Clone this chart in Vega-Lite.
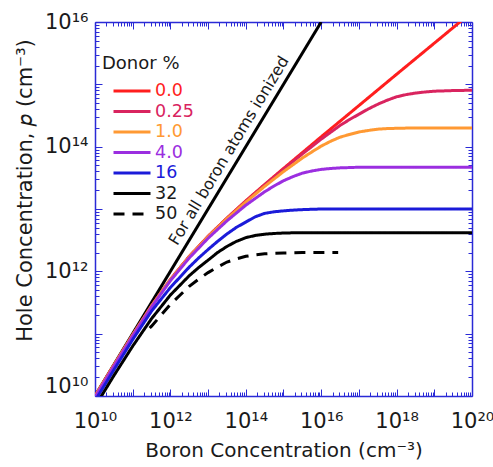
{
  "$schema": "https://vega.github.io/schema/vega-lite/v6.json",
  "width": 377,
  "height": 374,
  "padding": {"left": 14, "top": 11, "right": 0, "bottom": 2},
  "background": "white",
  "resolve": {"axis": {"x": "independent", "y": "independent"}},
  "config": {
    "view": {"stroke": null},
    "font": "DejaVu Sans",
    "axis": {"grid": false, "labelFont": "DejaVu Sans", "titleFont": "DejaVu Sans", "labelColor": "#1a1a1a", "titleColor": "#1a1a1a", "titleFontWeight": "normal", "tickColor": "#2a2ad6", "tickWidth": 1, "domainColor": "#2a2ad6", "domainWidth": 1.5}
  },
  "datasets": {
    "curves": [
      {"donor": "0.0", "boron": 1e10, "hole": 9.95e9},
      {"donor": "0.0", "boron": 3.162e10, "hole": 3.12e10},
      {"donor": "0.0", "boron": 1e11, "hole": 9.57e10},
      {"donor": "0.0", "boron": 3.162e11, "hole": 2.79e11},
      {"donor": "0.0", "boron": 1e12, "hole": 7.40e11},
      {"donor": "0.0", "boron": 3.162e12, "hole": 1.73e12},
      {"donor": "0.0", "boron": 1e13, "hole": 3.65e12},
      {"donor": "0.0", "boron": 3.162e13, "hole": 7.14e12},
      {"donor": "0.0", "boron": 1e14, "hole": 1.35e13},
      {"donor": "0.0", "boron": 3.162e14, "hole": 2.47e13},
      {"donor": "0.0", "boron": 1e15, "hole": 4.47e13},
      {"donor": "0.0", "boron": 3.162e15, "hole": 8.02e13},
      {"donor": "0.0", "boron": 1e16, "hole": 1.44e14},
      {"donor": "0.0", "boron": 3.162e16, "hole": 2.56e14},
      {"donor": "0.0", "boron": 1e17, "hole": 4.56e14},
      {"donor": "0.0", "boron": 1e18, "hole": 1.45e15},
      {"donor": "0.0", "boron": 1e19, "hole": 4.57e15},
      {"donor": "0.0", "boron": 1e20, "hole": 1.445e16},

      {"donor": "0.25", "boron": 1e10, "hole": 9.95e9},
      {"donor": "0.25", "boron": 3.162e10, "hole": 3.12e10},
      {"donor": "0.25", "boron": 1e11, "hole": 9.57e10},
      {"donor": "0.25", "boron": 3.162e11, "hole": 2.79e11},
      {"donor": "0.25", "boron": 1e12, "hole": 7.38e11},
      {"donor": "0.25", "boron": 3.162e12, "hole": 1.73e12},
      {"donor": "0.25", "boron": 1e13, "hole": 3.63e12},
      {"donor": "0.25", "boron": 3.162e13, "hole": 7.11e12},
      {"donor": "0.25", "boron": 1e14, "hole": 1.33e13},
      {"donor": "0.25", "boron": 3.162e14, "hole": 2.43e13},
      {"donor": "0.25", "boron": 1e15, "hole": 4.35e13},
      {"donor": "0.25", "boron": 3.162e15, "hole": 7.64e13},
      {"donor": "0.25", "boron": 1e16, "hole": 1.32e14},
      {"donor": "0.25", "boron": 3.162e16, "hole": 2.19e14},
      {"donor": "0.25", "boron": 5.623e16, "hole": 2.72e14},
      {"donor": "0.25", "boron": 1e17, "hole": 3.31e14},
      {"donor": "0.25", "boron": 1.778e17, "hole": 4.03e14},
      {"donor": "0.25", "boron": 3.162e17, "hole": 4.79e14},
      {"donor": "0.25", "boron": 5.623e17, "hole": 5.56e14},
      {"donor": "0.25", "boron": 1e18, "hole": 6.31e14},
      {"donor": "0.25", "boron": 1.778e18, "hole": 6.84e14},
      {"donor": "0.25", "boron": 3.162e18, "hole": 7.24e14},
      {"donor": "0.25", "boron": 5.623e18, "hole": 7.53e14},
      {"donor": "0.25", "boron": 1e19, "hole": 7.76e14},
      {"donor": "0.25", "boron": 3.162e19, "hole": 7.94e14},
      {"donor": "0.25", "boron": 1e20, "hole": 8.04e14},

      {"donor": "1.0", "boron": 1e10, "hole": 9.85e9},
      {"donor": "1.0", "boron": 3.162e10, "hole": 3.09e10},
      {"donor": "1.0", "boron": 1e11, "hole": 9.48e10},
      {"donor": "1.0", "boron": 3.162e11, "hole": 2.77e11},
      {"donor": "1.0", "boron": 1e12, "hole": 7.31e11},
      {"donor": "1.0", "boron": 3.162e12, "hole": 1.71e12},
      {"donor": "1.0", "boron": 1e13, "hole": 3.58e12},
      {"donor": "1.0", "boron": 3.162e13, "hole": 6.98e12},
      {"donor": "1.0", "boron": 1e14, "hole": 1.29e13},
      {"donor": "1.0", "boron": 3.162e14, "hole": 2.31e13},
      {"donor": "1.0", "boron": 1e15, "hole": 3.98e13},
      {"donor": "1.0", "boron": 3.162e15, "hole": 6.58e13},
      {"donor": "1.0", "boron": 5.623e15, "hole": 8.22e13},
      {"donor": "1.0", "boron": 1e16, "hole": 1.02e14},
      {"donor": "1.0", "boron": 1.778e16, "hole": 1.22e14},
      {"donor": "1.0", "boron": 3.162e16, "hole": 1.42e14},
      {"donor": "1.0", "boron": 5.623e16, "hole": 1.57e14},
      {"donor": "1.0", "boron": 1e17, "hole": 1.72e14},
      {"donor": "1.0", "boron": 1.778e17, "hole": 1.82e14},
      {"donor": "1.0", "boron": 3.162e17, "hole": 1.91e14},
      {"donor": "1.0", "boron": 5.623e17, "hole": 1.95e14},
      {"donor": "1.0", "boron": 1e18, "hole": 1.97e14},
      {"donor": "1.0", "boron": 3.162e18, "hole": 2.0e14},
      {"donor": "1.0", "boron": 1e20, "hole": 2.0e14},

      {"donor": "4.0", "boron": 1e10, "hole": 9.55e9},
      {"donor": "4.0", "boron": 3.162e10, "hole": 2.99e10},
      {"donor": "4.0", "boron": 1e11, "hole": 9.18e10},
      {"donor": "4.0", "boron": 3.162e11, "hole": 2.68e11},
      {"donor": "4.0", "boron": 1e12, "hole": 7.08e11},
      {"donor": "4.0", "boron": 3.162e12, "hole": 1.64e12},
      {"donor": "4.0", "boron": 1e13, "hole": 3.40e12},
      {"donor": "4.0", "boron": 3.162e13, "hole": 6.46e12},
      {"donor": "4.0", "boron": 1e14, "hole": 1.15e13},
      {"donor": "4.0", "boron": 3.162e14, "hole": 1.89e13},
      {"donor": "4.0", "boron": 5.623e14, "hole": 2.34e13},
      {"donor": "4.0", "boron": 1e15, "hole": 2.84e13},
      {"donor": "4.0", "boron": 1.778e15, "hole": 3.31e13},
      {"donor": "4.0", "boron": 3.162e15, "hole": 3.76e13},
      {"donor": "4.0", "boron": 5.623e15, "hole": 4.07e13},
      {"donor": "4.0", "boron": 1e16, "hole": 4.32e13},
      {"donor": "4.0", "boron": 1.778e16, "hole": 4.47e13},
      {"donor": "4.0", "boron": 3.162e16, "hole": 4.57e13},
      {"donor": "4.0", "boron": 5.623e16, "hole": 4.62e13},
      {"donor": "4.0", "boron": 1e17, "hole": 4.68e13},
      {"donor": "4.0", "boron": 1e20, "hole": 4.68e13},

      {"donor": "16", "boron": 1e10, "hole": 8.36e9},
      {"donor": "16", "boron": 3.162e10, "hole": 2.62e10},
      {"donor": "16", "boron": 1e11, "hole": 8.04e10},
      {"donor": "16", "boron": 3.162e11, "hole": 2.30e11},
      {"donor": "16", "boron": 1e12, "hole": 5.50e11},
      {"donor": "16", "boron": 3.162e12, "hole": 1.17e12},
      {"donor": "16", "boron": 5.623e12, "hole": 1.64e12},
      {"donor": "16", "boron": 1e13, "hole": 2.24e12},
      {"donor": "16", "boron": 1.778e13, "hole": 3.02e12},
      {"donor": "16", "boron": 3.162e13, "hole": 3.98e12},
      {"donor": "16", "boron": 5.623e13, "hole": 5.07e12},
      {"donor": "16", "boron": 1e14, "hole": 6.17e12},
      {"donor": "16", "boron": 1.778e14, "hole": 7.50e12},
      {"donor": "16", "boron": 3.162e14, "hole": 8.51e12},
      {"donor": "16", "boron": 5.623e14, "hole": 9.02e12},
      {"donor": "16", "boron": 1e15, "hole": 9.33e12},
      {"donor": "16", "boron": 1.778e15, "hole": 9.59e12},
      {"donor": "16", "boron": 3.162e15, "hole": 9.77e12},
      {"donor": "16", "boron": 5.623e15, "hole": 9.89e12},
      {"donor": "16", "boron": 1e16, "hole": 1.0e13},
      {"donor": "16", "boron": 1e20, "hole": 1.0e13},

      {"donor": "32", "boron": 1e10, "hole": 6.76e9},
      {"donor": "32", "boron": 3.162e10, "hole": 2.12e10},
      {"donor": "32", "boron": 1e11, "hole": 6.31e10},
      {"donor": "32", "boron": 3.162e11, "hole": 1.74e11},
      {"donor": "32", "boron": 1e12, "hole": 4.17e11},
      {"donor": "32", "boron": 3.162e12, "hole": 8.51e11},
      {"donor": "32", "boron": 5.623e12, "hole": 1.15e12},
      {"donor": "32", "boron": 1e13, "hole": 1.51e12},
      {"donor": "32", "boron": 1.778e13, "hole": 2.0e12},
      {"donor": "32", "boron": 3.162e13, "hole": 2.51e12},
      {"donor": "32", "boron": 5.623e13, "hole": 3.02e12},
      {"donor": "32", "boron": 1e14, "hole": 3.47e12},
      {"donor": "32", "boron": 1.778e14, "hole": 3.76e12},
      {"donor": "32", "boron": 3.162e14, "hole": 3.94e12},
      {"donor": "32", "boron": 5.623e14, "hole": 4.05e12},
      {"donor": "32", "boron": 1e15, "hole": 4.12e12},
      {"donor": "32", "boron": 3.162e15, "hole": 4.17e12},
      {"donor": "32", "boron": 1e20, "hole": 4.17e12}
    ],
    "dashed": [
      {"donor": "50", "boron": 2.82e11, "hole": 1.23e11},
      {"donor": "50", "boron": 3.162e11, "hole": 1.32e11},
      {"donor": "50", "boron": 1e12, "hole": 2.95e11},
      {"donor": "50", "boron": 3.162e12, "hole": 5.75e11},
      {"donor": "50", "boron": 5.623e12, "hole": 7.50e11},
      {"donor": "50", "boron": 1e13, "hole": 9.55e11},
      {"donor": "50", "boron": 1.778e13, "hole": 1.17e12},
      {"donor": "50", "boron": 3.162e13, "hole": 1.41e12},
      {"donor": "50", "boron": 5.623e13, "hole": 1.58e12},
      {"donor": "50", "boron": 1e14, "hole": 1.74e12},
      {"donor": "50", "boron": 1.778e14, "hole": 1.84e12},
      {"donor": "50", "boron": 3.162e14, "hole": 1.91e12},
      {"donor": "50", "boron": 5.623e14, "hole": 1.95e12},
      {"donor": "50", "boron": 1e15, "hole": 1.97e12},
      {"donor": "50", "boron": 3.162e15, "hole": 2.0e12},
      {"donor": "50", "boron": 2.82e16, "hole": 2.0e12}
    ],
    "ionized": [
      {"boron": 1e10, "hole": 1e10},
      {"boron": 1e16, "hole": 1e16}
    ],
    "notes": [
      {"note": "For all boron atoms ionized"}
    ]
  },
  "layer": [
    {
      "data": {"name": "ionized"},
      "mark": {"type": "line", "color": "black", "strokeWidth": 3, "clip": true},
      "encoding": {
        "x": {"field": "boron", "type": "quantitative",
          "scale": {"type": "log", "domain": [1e10, 1e20], "nice": false},
          "axis": {"orient": "bottom", "offset": -374, "labels": false, "title": null, "domain": true,
            "values": [1e10,2e10,3e10,4e10,5e10,6e10,7e10,8e10,9e10,1e11,2e11,3e11,4e11,5e11,6e11,7e11,8e11,9e11,1e12,2e12,3e12,4e12,5e12,6e12,7e12,8e12,9e12,1e13,2e13,3e13,4e13,5e13,6e13,7e13,8e13,9e13,1e14,2e14,3e14,4e14,5e14,6e14,7e14,8e14,9e14,1e15,2e15,3e15,4e15,5e15,6e15,7e15,8e15,9e15,1e16,2e16,3e16,4e16,5e16,6e16,7e16,8e16,9e16,1e17,2e17,3e17,4e17,5e17,6e17,7e17,8e17,9e17,1e18,2e18,3e18,4e18,5e18,6e18,7e18,8e18,9e18,1e19,2e19,3e19,4e19,5e19,6e19,7e19,8e19,9e19,1e20],
            "tickSize": {"condition": {"test": "abs(log(datum.value)/LN10 - round(log(datum.value)/LN10)) < 0.000001", "value": 7}, "value": 4}}
        },
        "y": {"field": "hole", "type": "quantitative",
          "scale": {"type": "log", "domain": [1e10, 1e16], "nice": false},
          "axis": {"orient": "left", "offset": -377, "labels": false, "title": null, "domain": true,
            "values": [1e10,2e10,3e10,4e10,5e10,6e10,7e10,8e10,9e10,1e11,2e11,3e11,4e11,5e11,6e11,7e11,8e11,9e11,1e12,2e12,3e12,4e12,5e12,6e12,7e12,8e12,9e12,1e13,2e13,3e13,4e13,5e13,6e13,7e13,8e13,9e13,1e14,2e14,3e14,4e14,5e14,6e14,7e14,8e14,9e14,1e15,2e15,3e15,4e15,5e15,6e15,7e15,8e15,9e15,1e16],
            "tickSize": {"condition": {"test": "abs(log(datum.value)/LN10 - round(log(datum.value)/LN10)) < 0.000001", "value": 7}, "value": 4}}
        }
      }
    },
    {
      "data": {"name": "curves"},
      "mark": {"type": "line", "strokeWidth": 3, "clip": true, "strokeCap": "butt"},
      "encoding": {
        "x": {"field": "boron", "type": "quantitative",
          "scale": {"type": "log", "domain": [1e10, 1e20], "nice": false},
          "axis": {"orient": "bottom", "title": "Boron Concentration (cm⁻³)", "titleFontSize": 20, "titlePadding": 9,
            "labelFontSize": 21, "labelFlush": false, "labelOverlap": false, "labelBound": false, "labelPadding": 14,
            "ticks": false, "tickSize": 0, "domain": false,
            "labelExpr": "datum.value == 1e10 ? '10¹⁰' : datum.value == 1e12 ? '10¹²' : datum.value == 1e14 ? '10¹⁴' : datum.value == 1e16 ? '10¹⁶' : datum.value == 1e18 ? '10¹⁸' : '10²⁰'",
            "values": [1e10,1e12,1e14,1e16,1e18,1e20]}
        },
        "y": {"field": "hole", "type": "quantitative",
          "scale": {"type": "log", "domain": [1e10, 1e16], "nice": false},
          "axis": {"orient": "left", "title": "Hole Concentration, 𝑝 (cm⁻³)", "titleFontSize": 21, "titleX": -60, "titleY": 168,
            "labelFontSize": 21, "labelFlush": false, "labelOverlap": false, "labelBound": false, "labelPadding": 7,
            "ticks": false, "tickSize": 0, "domain": false,
            "labelBaseline": {"condition": {"test": "datum.value == 1e10", "value": "bottom"}, "value": "middle"},
            "labelExpr": "datum.value == 1e10 ? '10¹⁰' : datum.value == 1e12 ? '10¹²' : datum.value == 1e14 ? '10¹⁴' : '10¹⁶'",
            "values": [1e10,1e12,1e14,1e16]}
        },
        "color": {"field": "donor", "type": "nominal",
          "scale": {"domain": ["0.0", "0.25", "1.0", "4.0", "16", "32", "50"],
                    "range": ["#ff1e1e", "#d9245f", "#ff9933", "#9b2ee0", "#1b1bd9", "#000000", "#000000"]},
          "legend": {"title": "Donor %", "orient": "none", "legendX": 7, "legendY": 33, "padding": 0,
            "titleFontSize": 18, "titleFontWeight": "normal", "titleColor": "#1a1a1a", "titleFont": "DejaVu Sans", "titlePadding": 10,
            "labelFontSize": 17.5, "labelFont": "DejaVu Sans", "labelOffset": 3,
            "labelColor": {"expr": "datum.label == '0.0' ? '#ff1e1e' : datum.label == '0.25' ? '#d9245f' : datum.label == '1.0' ? '#ff9933' : datum.label == '4.0' ? '#9b2ee0' : datum.label == '16' ? '#1b1bd9' : '#1a1a1a'"},
            "symbolType": "stroke", "symbolSize": 1369, "symbolStrokeWidth": 3, "symbolOffset": 10,
            "clipHeight": 16, "rowPadding": 2.5}
        },
        "strokeDash": {"field": "donor", "type": "nominal",
          "scale": {"domain": ["0.0", "0.25", "1.0", "4.0", "16", "32", "50"],
                    "range": [[1, 0], [1, 0], [1, 0], [1, 0], [1, 0], [1, 0], [11, 8]]}
        }
      }
    },
    {
      "data": {"name": "dashed"},
      "mark": {"type": "line", "strokeWidth": 3, "clip": true, "strokeCap": "butt"},
      "encoding": {
        "x": {"field": "boron", "type": "quantitative",
          "axis": {"orient": "top", "offset": -374, "labels": false, "title": null, "domain": true,
            "values": [1e10,2e10,3e10,4e10,5e10,6e10,7e10,8e10,9e10,1e11,2e11,3e11,4e11,5e11,6e11,7e11,8e11,9e11,1e12,2e12,3e12,4e12,5e12,6e12,7e12,8e12,9e12,1e13,2e13,3e13,4e13,5e13,6e13,7e13,8e13,9e13,1e14,2e14,3e14,4e14,5e14,6e14,7e14,8e14,9e14,1e15,2e15,3e15,4e15,5e15,6e15,7e15,8e15,9e15,1e16,2e16,3e16,4e16,5e16,6e16,7e16,8e16,9e16,1e17,2e17,3e17,4e17,5e17,6e17,7e17,8e17,9e17,1e18,2e18,3e18,4e18,5e18,6e18,7e18,8e18,9e18,1e19,2e19,3e19,4e19,5e19,6e19,7e19,8e19,9e19,1e20],
            "tickSize": {"condition": {"test": "abs(log(datum.value)/LN10 - round(log(datum.value)/LN10)) < 0.000001", "value": 7}, "value": 4}}
        },
        "y": {"field": "hole", "type": "quantitative",
          "axis": {"orient": "right", "offset": -377, "labels": false, "title": null, "domain": true,
            "values": [1e10,2e10,3e10,4e10,5e10,6e10,7e10,8e10,9e10,1e11,2e11,3e11,4e11,5e11,6e11,7e11,8e11,9e11,1e12,2e12,3e12,4e12,5e12,6e12,7e12,8e12,9e12,1e13,2e13,3e13,4e13,5e13,6e13,7e13,8e13,9e13,1e14,2e14,3e14,4e14,5e14,6e14,7e14,8e14,9e14,1e15,2e15,3e15,4e15,5e15,6e15,7e15,8e15,9e15,1e16],
            "tickSize": {"condition": {"test": "abs(log(datum.value)/LN10 - round(log(datum.value)/LN10)) < 0.000001", "value": 7}, "value": 4}}
        },
        "color": {"field": "donor", "type": "nominal"},
        "strokeDash": {"field": "donor", "type": "nominal"}
      }
    },
    {
      "data": {"name": "notes"},
      "mark": {"type": "text", "angle": 301.1, "fontSize": 16, "font": "DejaVu Sans", "color": "#1a1a1a", "align": "center", "baseline": "middle"},
      "encoding": {
        "text": {"field": "note", "type": "nominal"},
        "x": {"datum": 3.58e13, "type": "quantitative", "axis": null},
        "y": {"datum": 8.63e13, "type": "quantitative", "axis": null}
      }
    }
  ]
}
